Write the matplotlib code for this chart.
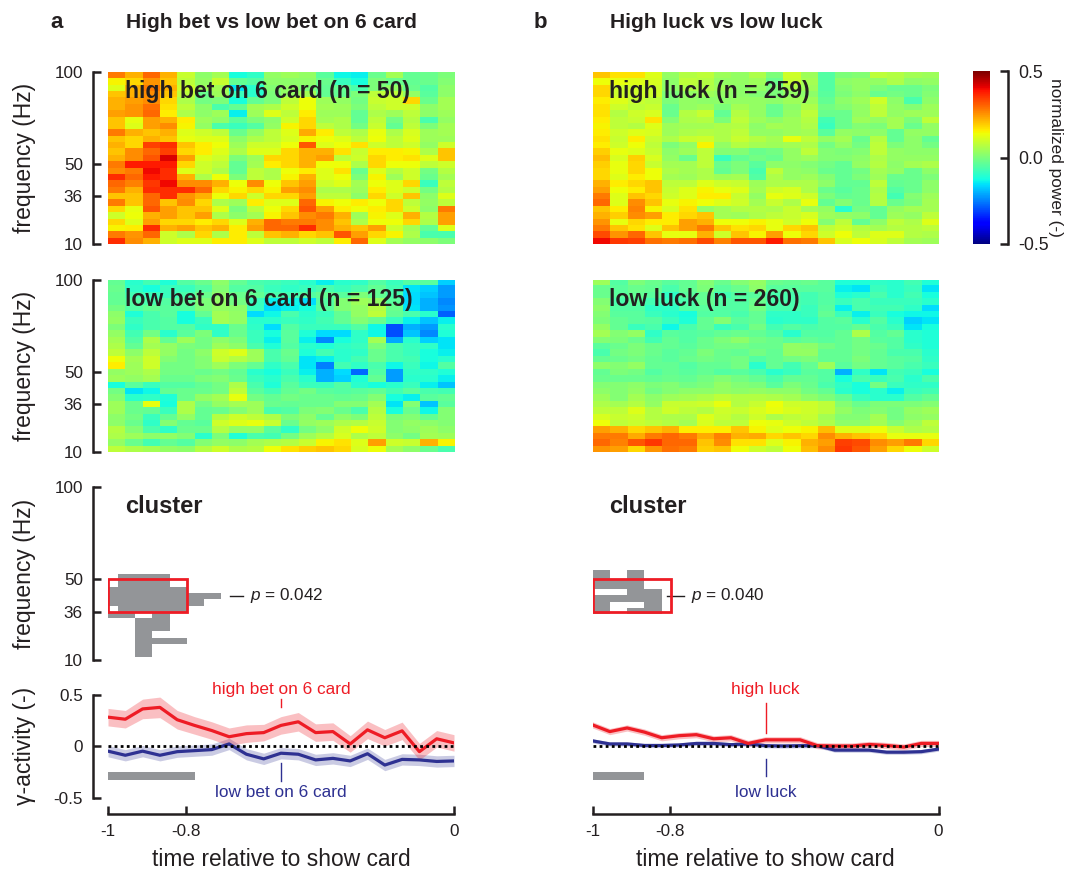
import numpy as np
import matplotlib
matplotlib.use("Agg")
import matplotlib.pyplot as plt
from matplotlib.colors import ListedColormap
from matplotlib.patches import Rectangle

plt.rcParams['font.family'] = ['Liberation Sans', 'DejaVu Sans']
plt.rcParams['mathtext.fontset'] = 'custom'
plt.rcParams['mathtext.it'] = 'Liberation Sans:italic'

INK = '#231f20'
RED = '#ee1c25'
NAVY = '#2e3192'
GRAY = '#939598'

# heatmaps, top row is 100 Hz, values in hundredths of normalized power
high_bet = [
    [28,22,30,22,9,2,5,-12,-9,3,4,3,-4,-13,-14,-2,5,-3,-2,0],
    [15,18,25,20,8,3,9,-3,-5,2,2,2,-2,-8,-12,0,-2,-3,-2,1],
    [12,22,28,22,10,4,5,-15,-10,1,3,0,-3,-3,-6,0,3,-2,-5,2],
    [20,22,26,20,8,-2,4,-8,-10,0,3,5,-3,-3,0,8,8,3,-4,2],
    [22,24,26,18,6,-1,0,-12,-3,0,8,14,4,3,-1,9,10,18,-2,5],
    [22,25,29,17,8,2,-6,-3,5,6,10,14,5,4,0,8,10,10,2,5],
    [24,25,30,16,6,2,4,-14,4,12,8,16,4,4,-3,6,4,8,2,4],
    [20,13,24,22,16,4,2,-4,0,2,10,18,5,6,-3,8,-1,7,-6,3],
    [20,12,24,26,15,3,-6,-8,-5,3,15,18,8,6,-1,9,-3,8,0,5],
    [28,22,20,22,12,10,8,-2,3,8,12,23,16,8,6,13,6,11,4,5],
    [20,18,22,20,13,12,12,2,6,8,11,15,14,12,8,14,8,12,4,4],
    [22,18,34,36,20,16,14,4,10,10,14,32,12,14,17,10,8,10,3,10],
    [20,26,30,34,18,16,12,6,12,12,18,22,22,17,9,16,16,15,6,20],
    [22,26,32,42,24,12,10,0,4,18,18,22,24,8,10,18,16,17,12,20],
    [28,38,38,38,18,10,8,-3,5,16,18,22,14,14,6,18,14,14,8,10],
    [26,28,40,36,12,10,6,-3,8,6,14,16,12,17,-2,12,7,10,-1,7],
    [36,30,38,36,22,6,14,0,8,6,15,22,12,14,0,15,4,10,-2,5],
    [30,27,35,40,26,26,22,14,26,14,20,24,10,12,5,14,12,18,-8,8],
    [28,22,36,36,36,30,18,15,18,15,24,26,6,6,4,16,12,10,-1,7],
    [20,20,30,36,25,22,14,18,10,18,18,24,8,8,2,18,10,20,2,12],
    [28,20,30,20,26,18,6,4,16,12,12,30,15,14,16,14,18,8,3,8],
    [18,13,32,24,20,20,12,0,8,14,18,32,24,16,14,16,18,10,2,28],
    [10,14,22,24,20,24,6,2,5,15,20,26,28,22,4,15,12,22,7,24],
    [18,12,24,18,18,16,18,12,22,30,28,28,26,20,6,14,14,18,6,24],
    [15,16,36,22,24,20,22,16,24,30,30,36,26,22,20,24,10,5,-3,12],
    [28,25,30,10,6,18,6,16,8,20,22,18,20,32,24,18,15,6,-6,-6],
    [36,26,22,10,12,12,16,16,12,8,8,10,8,16,30,12,5,3,2,0],
]
low_bet = [
    [-3,-10,-7,-11,-5,-2,2,-3,-6,-7,-8,-10,-14,-10,-9,-5,-8,-5,-4,-17],
    [-2,-9,-12,-8,-8,-5,1,-5,-5,-8,-9,-8,-6,-8,-6,-3,-7,-15,-17,-22],
    [-3,-7,-8,-8,-6,-2,2,-2,-3,-6,-7,-5,-3,-4,0,-3,-6,-16,-18,-22],
    [-3,-5,-6,-5,-4,0,3,-1,-8,-14,-13,-16,-5,1,4,3,-4,-16,-20,-24],
    [-1,-5,-3,-4,-4,0,3,2,-8,-16,-14,-12,-4,1,3,7,-2,-15,-20,-23],
    [2,-11,-6,-4,-12,-3,5,3,-16,-13,-6,-10,-8,-3,3,8,-3,-6,-10,-28],
    [3,-8,-6,-5,-12,-8,5,3,-10,-10,-8,-9,-7,-3,1,-2,-8,-14,-18,-14],
    [0,-9,-6,-5,-5,-9,-9,-2,-9,-16,-5,-8,-8,-8,-5,-13,-30,-20,-22,-10],
    [3,-7,-1,-10,-4,0,-9,-2,-8,-12,-4,-11,-16,-16,-9,-13,-30,-18,-24,-11],
    [5,-5,6,-3,4,-1,2,0,-8,-14,-4,-14,-24,-12,-9,5,-21,-10,-17,-15],
    [6,-3,5,3,0,-1,4,2,-6,-11,-5,-10,-11,-9,-8,0,-6,-8,-9,-15],
    [8,2,8,3,-1,2,10,12,4,-6,-2,-11,-7,-10,-9,-2,-6,-8,-12,-14],
    [14,5,10,1,-1,1,9,7,4,-6,-3,-15,-14,-10,-7,-2,-6,-7,-12,-10],
    [16,4,10,-1,-1,1,4,0,-3,-9,-6,-15,-25,-7,-9,-6,-13,-8,-13,-5],
    [3,4,6,-1,-1,-2,-1,-3,-10,-12,-8,-14,-20,-16,-27,-5,-22,-9,-9,-11],
    [4,3,5,-2,-2,0,1,-2,-8,-10,-6,-10,-20,-17,-11,-3,-22,-10,-10,-14],
    [-12,-4,-8,-5,-5,-3,-1,6,-6,-11,-4,-8,-8,-5,-10,-12,-10,-8,-14,-18],
    [-1,-15,-13,-3,-2,-2,-1,8,-4,-7,-3,-1,-4,-5,-4,-3,-7,-4,-6,-7],
    [1,-10,-9,-11,-2,3,5,13,-1,-3,-1,-2,-2,-3,-2,1,-12,-14,-4,-3],
    [4,-2,13,-12,6,-1,3,5,4,-2,-3,-2,-2,1,1,5,-15,1,-18,-4],
    [4,-2,-3,-8,6,-3,-2,1,4,-6,-5,0,1,-2,-6,7,-12,-2,-13,1],
    [2,-1,-8,-3,3,-3,7,10,8,6,0,2,-3,2,0,8,0,1,-3,1],
    [2,-2,-9,1,-3,-4,10,12,13,9,-2,3,4,6,7,9,1,3,2,1],
    [7,1,-6,-9,-2,-2,7,3,3,-4,-9,-1,2,10,14,10,1,2,4,2],
    [6,4,2,3,1,-10,0,-11,-6,-7,-1,4,7,11,6,8,2,-1,5,4],
    [3,-2,-7,-3,-5,1,3,2,5,6,7,9,15,17,12,24,10,9,22,15],
    [8,6,5,3,2,7,10,6,7,14,17,19,20,18,11,14,5,2,-2,-6],
]
high_luck = [
    [20,17,17,12,3,7,8,4,3,6,0,10,4,-5,0,1,8,7,5,4],
    [14,13,12,11,2,8,7,3,3,4,-2,9,5,-5,2,3,3,6,2,3],
    [18,10,10,10,2,6,6,4,2,3,0,6,4,-5,1,3,0,-2,-2,0],
    [18,10,10,10,0,3,4,3,2,1,0,3,2,-4,0,2,-2,-1,-2,1],
    [16,12,9,8,0,3,2,2,3,3,2,4,4,-3,2,4,10,2,-6,2],
    [17,10,8,9,-2,3,4,0,5,3,-2,2,6,-1,1,3,8,3,1,4],
    [17,7,10,11,-2,7,9,-3,7,3,-2,3,8,-2,-2,3,8,3,4,4],
    [16,8,9,17,1,6,7,0,8,4,2,4,7,-7,-2,4,3,5,0,8],
    [15,8,7,12,4,5,5,6,7,2,5,4,6,-8,-2,1,0,5,-2,3],
    [16,10,12,11,4,6,7,6,8,3,3,4,5,-4,3,2,2,-3,3,3],
    [17,9,16,9,6,9,10,6,9,7,5,13,8,3,5,-2,7,-3,2,-3],
    [16,10,14,8,0,3,15,3,7,5,4,5,6,-1,3,-1,8,0,2,-1],
    [19,13,12,9,2,4,8,1,1,-2,-1,3,8,1,0,1,8,3,2,2],
    [21,11,19,11,3,-2,8,-8,-3,-1,-2,3,4,1,1,2,6,3,3,3],
    [19,13,18,9,5,5,8,-2,0,-4,2,2,1,-1,-3,3,7,2,5,6],
    [18,13,18,14,6,5,6,-3,0,-6,8,3,2,-2,-3,-1,5,3,-2,2],
    [18,12,16,14,5,4,6,4,5,-5,6,3,4,1,-3,0,4,-2,-2,0],
    [22,16,18,20,8,8,12,10,9,4,6,6,6,2,-3,-3,8,-3,-2,2],
    [24,14,16,20,9,12,15,13,12,5,10,11,6,-2,-4,-2,6,-5,-2,2],
    [28,12,20,18,10,12,16,16,9,3,13,12,10,0,-3,-2,7,-7,1,4],
    [30,12,26,20,13,15,14,12,10,5,9,6,13,-3,1,-2,7,-2,0,5],
    [20,16,27,15,11,17,3,5,7,7,6,9,5,3,-10,-1,-3,3,5,5],
    [22,19,26,24,16,18,20,5,4,6,8,9,11,4,3,2,-3,4,3,8],
    [25,13,18,16,16,24,22,14,14,15,13,10,14,1,8,-3,2,8,6,12],
    [28,20,17,12,20,24,28,20,17,18,13,18,20,8,10,7,5,7,7,8],
    [33,25,30,20,13,13,22,10,20,15,24,14,18,10,14,8,12,12,7,6],
    [40,35,34,29,28,29,33,27,32,32,38,29,28,20,11,14,11,8,5,4],
]
low_luck = [
    [4,-5,0,-2,-4,-3,1,-2,1,3,-2,-3,-2,-4,-11,-11,-9,-10,-7,-11],
    [-2,-4,-2,-3,-6,-3,0,-4,-2,2,-4,-4,-4,-4,-14,-15,-8,-10,-8,-15],
    [-2,-4,-3,-4,-9,-4,-3,-7,-5,-4,-6,-6,-7,-5,-11,-10,-6,-10,-7,-12],
    [1,-6,-4,-7,-8,-6,-3,-5,-5,-2,-6,-6,-7,-5,-8,-6,-8,-8,-8,-10],
    [2,-5,-5,-9,-9,-5,-4,-5,-5,-1,-6,-6,-8,-4,-14,-6,-7,-7,-9,-16],
    [1,-4,-4,-8,-10,-12,-5,-5,-6,-3,-9,-9,-8,-3,-8,-14,-8,-12,-13,-13],
    [0,-3,-4,-5,-8,-11,-3,1,-4,-3,-10,-9,-9,-5,-4,-10,-5,-10,-17,-15],
    [3,-3,-8,-6,-13,-6,-3,-8,-6,-1,-7,-5,-6,-5,-5,-3,-6,-8,-15,-12],
    [5,1,3,-9,-4,-5,-4,-3,-2,-3,-5,-10,-5,-5,-3,6,-5,-3,-10,-11],
    [1,0,-2,-7,-3,-5,-2,0,2,-1,-2,-4,-3,-4,-3,-1,-4,-5,-10,-11],
    [-4,-2,0,-2,-3,-4,-2,-1,-1,-2,-2,3,2,-1,-3,-1,-2,-5,-9,-11],
    [-6,-1,0,-2,-4,-3,0,-2,-3,-1,-3,3,3,-3,-3,-1,-3,-6,-6,-10],
    [-3,-2,-1,-3,-4,-2,-1,-2,-1,-5,-3,-1,0,-3,-3,0,-3,-4,-5,-9],
    [2,1,3,-3,-3,-5,-3,-3,-1,-10,-3,-7,-3,4,-4,-1,-3,-4,-6,-8],
    [-3,0,-1,-5,-3,-4,-3,-5,-4,-6,-10,-8,-4,-5,-20,-9,-15,-7,-8,-12],
    [-2,-2,-2,-3,-2,-3,-1,1,-1,-3,-6,-3,-3,-5,-12,-6,-8,-6,-10,-6],
    [1,1,2,0,1,-1,0,3,1,0,-4,0,-2,-6,-9,-12,-1,-8,-9,-9],
    [2,1,3,-1,1,2,2,3,2,3,2,2,-1,-3,-10,-12,-10,-14,-8,-7],
    [4,1,5,2,4,5,6,8,7,7,6,5,2,0,-3,-8,-10,-10,-5,-3],
    [6,5,7,3,9,9,10,13,7,9,14,10,10,8,1,-2,0,0,0,1],
    [8,8,12,7,10,8,7,10,9,11,13,11,10,8,3,0,1,-1,3,4],
    [11,9,10,7,6,6,12,9,7,10,6,8,9,5,1,1,5,-1,2,3],
    [14,8,9,8,7,5,11,8,8,14,13,10,8,6,2,2,5,1,4,8],
    [24,22,18,20,22,16,16,16,20,15,12,14,15,21,12,12,14,9,6,7],
    [28,28,23,28,30,28,23,27,22,23,18,20,18,26,22,20,18,13,13,13],
    [30,27,32,35,30,30,20,26,17,17,12,15,22,24,34,33,26,24,28,18],
    [25,24,18,25,29,28,19,20,14,10,8,14,21,26,35,32,24,18,14,10],
]

# significant clusters, bottom row first
cluster_a_time = [-1, -0.972, -0.922, -0.872, -0.822, -0.772, -0.722, -0.672]
cluster_a_freq = [11.6, 14.9, 18.2, 21.6, 24.9, 28.2, 31.6, 34.9, 38.2, 41.6, 44.9, 48.2, 51.6, 54.9]
cluster_a = [
    [0,0,1,0,0,0,0],
    [0,0,1,0,0,0,0],
    [0,0,1,1,1,0,0],
    [0,0,1,0,0,0,0],
    [0,0,1,1,0,0,0],
    [0,0,1,1,0,0,0],
    [1,1,0,1,0,0,0],
    [0,1,1,1,1,0,0],
    [1,1,1,1,1,1,0],
    [1,1,1,1,1,1,1],
    [1,1,1,1,1,0,0],
    [0,1,1,1,0,0,0],
    [0,1,1,1,0,0,0],
]
cluster_b_time = [-1, -0.95, -0.9, -0.85, -0.8]
cluster_b_freq = [33.8, 37.1, 40.3, 43.7, 46.9, 52.0, 56.8]
cluster_b = [
    [1,0,1,1],
    [1,0,0,1],
    [1,1,1,1],
    [0,0,1,1],
    [1,1,1,0],
    [1,0,1,0],
]

# gamma activity time courses
time = [-1, -0.95, -0.9, -0.85, -0.8, -0.75, -0.7, -0.65, -0.6, -0.55, -0.5,
        -0.45, -0.4, -0.35, -0.3, -0.25, -0.2, -0.15, -0.1, -0.05, 0]
gamma_high_bet = [.28,.26,.36,.375,.255,.20,.15,.09,.12,.13,.20,.235,.13,.14,.02,.157,.08,.147,-.055,.07,.03]
gamma_high_bet_err = [.085,.085,.095,.1,.09,.085,.085,.085,.085,.08,.085,.09,.085,.085,.08,.085,.08,.085,.08,.08,.08]
gamma_low_bet = [-.05,-.09,-.05,-.09,-.055,-.045,-.035,.02,-.08,-.125,-.07,-.08,-.135,-.12,-.145,-.075,-.185,-.13,-.135,-.15,-.145]
gamma_low_bet_err = [.055,.055,.055,.055,.055,.055,.055,.055,.055,.055,.055,.055,.055,.055,.055,.055,.055,.055,.055,.055,.055]
gamma_high_luck = [.205,.14,.175,.135,.08,.10,.11,.07,.08,.025,.06,.06,.06,.003,0,0,.015,.005,-.01,.025,.025]
gamma_high_luck_err = [.03,.03,.03,.03,.03,.03,.03,.03,.03,.03,.03,.03,.03,.03,.03,.03,.03,.03,.03,.03,.03]
gamma_low_luck = [.05,.02,.02,.005,.005,.01,.025,.025,.013,.02,.003,0,.003,.003,-.04,-.04,-.04,-.06,-.06,-.055,-.03]
gamma_low_luck_err = [.02,.02,.02,.02,.02,.02,.02,.02,.02,.02,.02,.02,.02,.02,.02,.02,.02,.02,.02,.02,.02]

freq_ticks = [10, 35, 52, 100]
freq_labels = ['10', '36', '50', '100']

W, H = 1075, 871
SPINE = 1.8
fig = plt.figure(figsize=(W / 100, H / 100), dpi=100)


def axes_px(x0, y0, x1, y1):
    return fig.add_axes([x0 / W, 1 - y1 / H, (x1 - x0) / W, (y1 - y0) / H])


def style_left(ax, ticks, labels, ylabel):
    ax.spines['left'].set_position(('outward', 11))
    ax.spines['left'].set_linewidth(SPINE)
    ax.spines['left'].set_color(INK)
    ax.set_yticks(ticks)
    ax.set_yticklabels(labels, fontsize=12.3, color=INK)
    ax.tick_params(axis='y', direction='in', length=6, width=SPINE, color=INK, pad=7)
    pos = ax.get_position()
    fig.text(25 / W, pos.y0 + pos.height / 2, ylabel, rotation=90, fontsize=16.5,
             color=INK, ha='center', va='center')


def hide(ax, left=False, bottom=False):
    for side in ['top', 'right', 'left', 'bottom']:
        ax.spines[side].set_visible(False)
    ax.spines['left'].set_visible(left)
    ax.spines['bottom'].set_visible(bottom)
    if not left:
        ax.set_yticks([])
    if not bottom:
        ax.set_xticks([])


def heatmap(x0, y0, data, label, left):
    ax = axes_px(x0, y0, x0 + 346, y0 + 172)
    im = ax.imshow(np.array(data) / 100, cmap='jet', vmin=-0.5, vmax=0.5, aspect='auto',
                   extent=(-1, 0, 10, 100), interpolation='nearest')
    hide(ax, left=left)
    if left:
        style_left(ax, freq_ticks, freq_labels, 'frequency (Hz)')
    ax.text(-0.951, 90, label, fontsize=16.6, fontweight='bold', color=INK, ha='left', va='center')
    return im


def cluster(x0, t, f, mask, pval, line_x, left):
    ax = axes_px(x0, 487, x0 + 346, 660)
    ax.set_xlim(-1, 0)
    ax.set_ylim(10, 100)
    m = np.ma.masked_equal(np.array(mask), 0)
    ax.pcolormesh(t, f, m, cmap=ListedColormap([GRAY]), vmin=0, vmax=1)
    ax.add_patch(Rectangle((-1, 35), 0.228, 17, fill=False, edgecolor=RED, linewidth=2, zorder=3))
    hide(ax, left=left)
    if left:
        style_left(ax, freq_ticks, freq_labels, 'frequency (Hz)')
    ax.plot(line_x, [43.5, 43.5], color=INK, lw=1)
    ax.text(line_x[1] + 0.02, 43.5, r'$\mathit{p}$ = ' + pval, fontsize=12.3, color=INK, ha='left', va='center')
    ax.text(-0.951, 90, 'cluster', fontsize=17, fontweight='bold', color=INK, ha='left', va='center')


def gamma(x0, hi, hi_err, lo, lo_err, bar_end, hi_name, lo_name, hi_tick, lo_tick, left):
    ax = axes_px(x0, 694.5, x0 + 346, 797.5)
    hi, hi_err, lo, lo_err = map(np.array, (hi, hi_err, lo, lo_err))
    ax.fill_between(time, lo - lo_err, lo + lo_err, color=NAVY, alpha=0.25, lw=0)
    ax.fill_between(time, hi - hi_err, hi + hi_err, color=RED, alpha=0.28, lw=0)
    ax.plot(time, lo, color=NAVY, lw=2.3, zorder=3)
    ax.plot(time, hi, color=RED, lw=2.3, zorder=4)
    ax.plot([-1, 0], [0, 0], color='black', lw=2, ls=(0, (1, 1.2)), zorder=5)
    ax.fill_between([-1, bar_end], -0.33, -0.252, color=GRAY, lw=0)
    ax.plot([-0.5, -0.5], hi_tick, color=RED, lw=1)
    ax.plot([-0.5, -0.5], lo_tick, color=NAVY, lw=1)
    ax.text(-0.5, 0.545, hi_name, color=RED, fontsize=12.4, ha='center', va='center')
    ax.text(-0.5, -0.45, lo_name, color=NAVY, fontsize=12.4, ha='center', va='center')
    ax.set_xlim(-1, 0)
    ax.set_ylim(-0.5, 0.5)
    hide(ax, left=left, bottom=True)
    if left:
        style_left(ax, [-0.5, 0, 0.5], ['-0.5', '0', '0.5'], 'γ-activity (-)')
    ax.spines['bottom'].set_position(('outward', 12))
    ax.spines['bottom'].set_linewidth(SPINE)
    ax.spines['bottom'].set_color(INK)
    ax.set_xticks([-1, -0.775, 0])
    ax.set_xticklabels(['-1', '-0.8', '0'], fontsize=12.3, color=INK)
    ax.tick_params(axis='x', direction='in', length=6, width=SPINE, color=INK, pad=7)
    ax.set_xlabel('time relative to show card', fontsize=16.4, color=INK, labelpad=6.5)


im = heatmap(108, 72, high_bet, 'high bet on 6 card (n = 50)', True)
heatmap(108, 280, low_bet, 'low bet on 6 card (n = 125)', True)
heatmap(592.5, 72, high_luck, 'high luck (n = 259)', False)
heatmap(592.5, 280, low_luck, 'low luck (n = 260)', False)

cluster(108, cluster_a_time, cluster_a_freq, cluster_a, '0.042', [-0.648, -0.61], True)
cluster(592.5, cluster_b_time, cluster_b_freq, cluster_b, '0.040', [-0.785, -0.735], False)

gamma(108, gamma_high_bet, gamma_high_bet_err, gamma_low_bet, gamma_low_bet_err, -0.75,
      'high bet on 6 card', 'low bet on 6 card', [0.38, 0.455], [-0.34, -0.165], True)
gamma(592.5, gamma_high_luck, gamma_high_luck_err, gamma_low_luck, gamma_low_luck_err, -0.85,
      'high luck', 'low luck', [0.126, 0.417], [-0.291, -0.126], False)

# panel letters and titles
fig.text(50 / W, 1 - 22 / H, 'a', fontsize=16, fontweight='bold', color=INK, va='center')
fig.text(126 / W, 1 - 22 / H, 'High bet vs low bet on 6 card', fontsize=15.1, fontweight='bold', color=INK, va='center')
fig.text(534 / W, 1 - 22 / H, 'b', fontsize=16, fontweight='bold', color=INK, va='center')
fig.text(610 / W, 1 - 22 / H, 'High luck vs low luck', fontsize=15.1, fontweight='bold', color=INK, va='center')

# colour bar with a detached bracket axis
cax = axes_px(973, 71.5, 990, 244)
cb = fig.colorbar(im, cax=cax)
cb.outline.set_visible(False)
cax.spines['right'].set_visible(True)
cax.spines['right'].set_position(('outward', 13))
cax.spines['right'].set_linewidth(SPINE)
cax.spines['right'].set_color(INK)
cb.set_ticks([-0.5, 0, 0.5])
cb.set_ticklabels(['-0.5', '0.0', '0.5'], fontsize=12.8, color=INK)
cax.tick_params(axis='y', direction='in', length=6, width=SPINE, color=INK, pad=7)
fig.text(1056 / W, 1 - 157 / H, 'normalized power (-)', rotation=270, fontsize=12.4, color=INK, ha='center', va='center')

fig.savefig('out.png', dpi=100)
